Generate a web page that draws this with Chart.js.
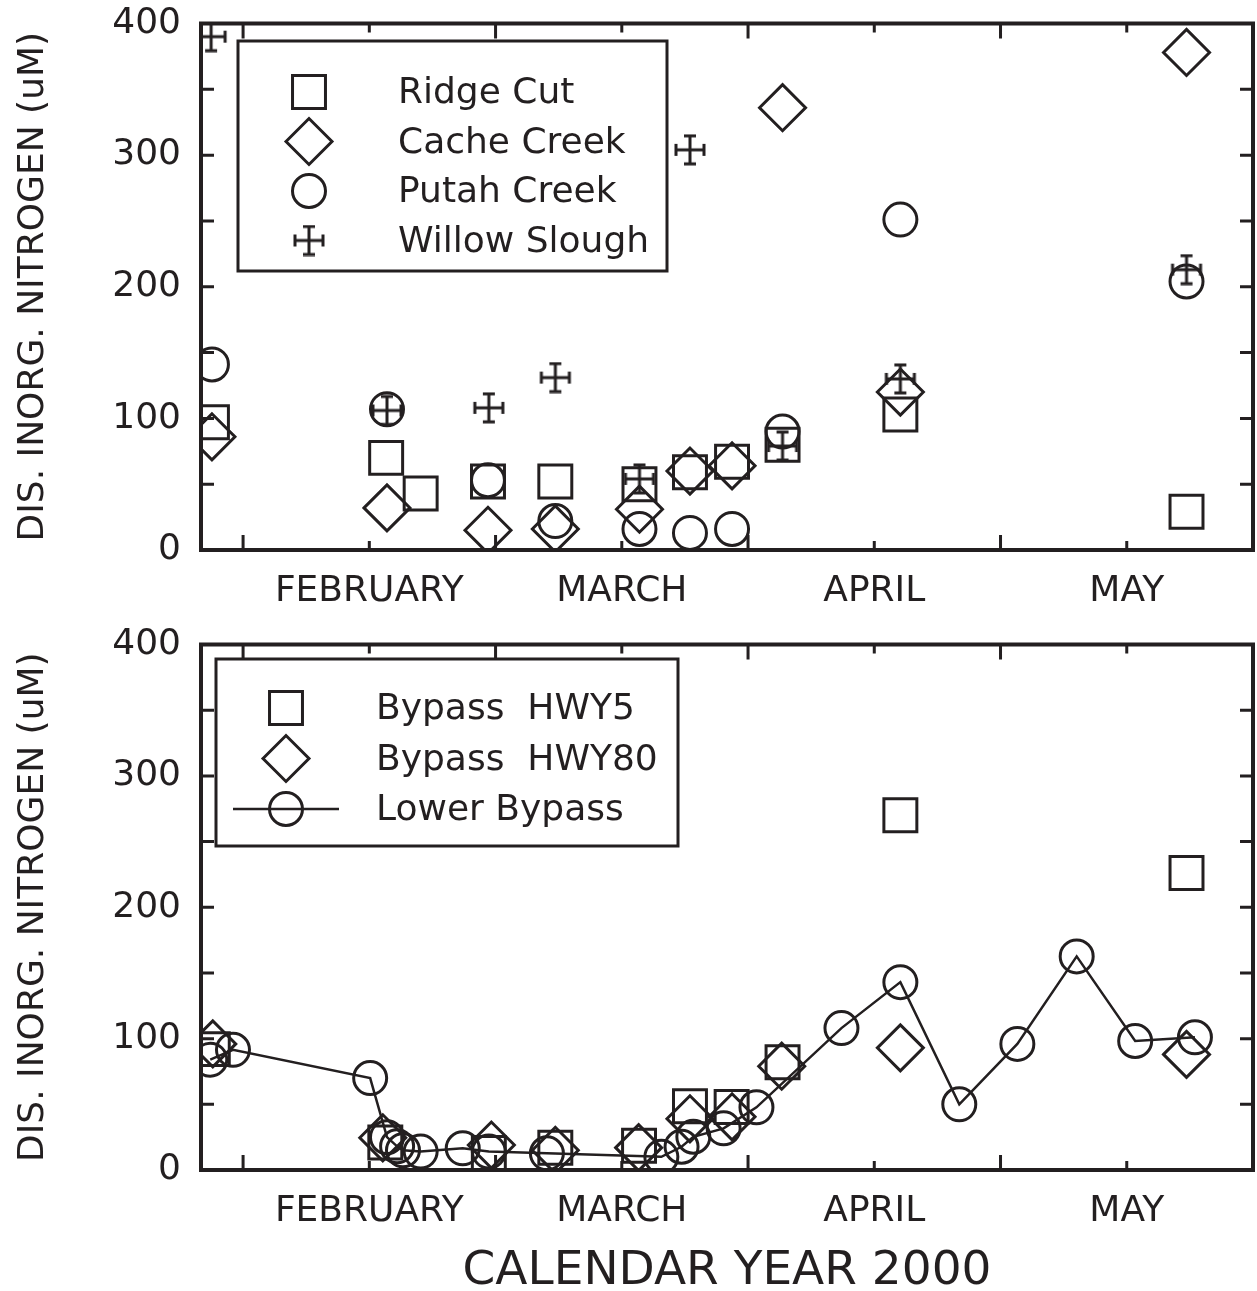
<!DOCTYPE html>
<html>
<head>
<meta charset="utf-8">
<title>Dissolved inorganic nitrogen, calendar year 2000</title>
<script src="https://cdn.jsdelivr.net/npm/chart.js@4/dist/chart.umd.min.js"></script>
<style>
    html, body { margin: 0; padding: 0; background: #fff; overflow: hidden; }
    #wrap { position: relative; width: 1257px; height: 1291px; }
    .panel { position: absolute; left: 0; width: 1257px; }
    #topPanel { top: 0; height: 620px; }
    #bottomPanel { top: 620px; height: 671px; }
</style>
</head>
<body>
<div id="wrap">
    <div class="panel" id="topPanel"><canvas id="topChart"></canvas></div>
    <div class="panel" id="bottomPanel"><canvas id="bottomChart"></canvas></div>
</div>
<script>
const INK = '#231f20';
const FONT = "'DejaVu Sans', sans-serif";

// x axis: day of year 2000, month names sit on the mid-month ticks
const xTickValues = [30, 45, 60, 75, 90, 105, 120, 135, 150];
const monthLabels = { 45: 'FEBRUARY', 75: 'MARCH', 105: 'APRIL', 135: 'MAY' };
const yTickValues = [0, 50, 100, 150, 200, 250, 300, 350, 400];

// Top panel
const ridgeCutDays = [26.3, 47.0, 51.1, 59.1, 67.1, 77.1, 83.1, 88.1, 94.1, 108.1, 142.1];
const ridgeCut     = [97, 70, 43, 52, 52, 50, 59, 67, 80, 103, 29];

const cacheCreekDays = [26.3, 47.1, 59.1, 67.1, 77.1, 83.1, 88.1, 94.1, 108.1, 142.1];
const cacheCreek     = [86, 32, 15, 16, 31, 60, 64, 336, 120, 378];

const putahCreekDays = [26.3, 47.1, 59.1, 67.1, 77.1, 83.1, 88.1, 94.1, 108.1, 142.1];
const putahCreek     = [141, 107, 53, 22, 16, 13, 16, 90, 251, 204];

const willowSloughDays = [26.2, 47.1, 59.2, 67.1, 77.1, 83.1, 94.1, 108.1, 142.1];
const willowSlough     = [390, 106, 108, 131, 54, 304, 79, 130, 213];

// Bottom panel
const hwy5Days = [26.4, 46.9, 59.2, 67.1, 77.05, 83.1, 88.05, 94.1, 108.1, 142.1];
const hwy5     = [92, 21, 13, 17, 18.5, 48.5, 48, 82, 270, 226];

const hwy80Days = [26.4, 46.6, 59.5, 67.1, 77.0, 83.1, 88.1, 94.0, 108.1, 142.1];
const hwy80     = [96, 24.5, 19, 15, 17, 39, 40.5, 79, 93, 88];

const lowerBypassDays = [26.1, 28.8, 45.1, 47.1, 48.3, 49.0, 51.1, 56.1, 59.2, 66.1, 79.7,
                         82.1, 83.5, 87.1, 91.0, 101.1, 108.1, 115.1, 122.0, 129.05, 136.0, 143.1];
const lowerBypass     = [84, 91.5, 70, 25, 18, 15, 14, 16.5, 14, 12.7, 10,
                         17.7, 25.3, 31.7, 47.7, 108, 143, 50, 96, 162.6, 98.2, 101];

function points(days, values) {
    return days.map((d, i) => ({ x: d, y: values[i] }));
}

// Willow Slough symbol: cross with error-bar caps
function makeCrossMarker() {
    const c = document.createElement('canvas');
    c.width = 34;
    c.height = 32;
    const g = c.getContext('2d');
    g.strokeStyle = INK;
    g.lineWidth = 3;
    g.beginPath();
    g.moveTo(3, 16); g.lineTo(31, 16);
    g.moveTo(3, 10); g.lineTo(3, 22);
    g.moveTo(31, 10); g.lineTo(31, 22);
    g.moveTo(17, 2); g.lineTo(17, 30);
    g.moveTo(11, 2); g.lineTo(23, 2);
    g.moveTo(11, 30); g.lineTo(23, 30);
    g.stroke();
    return c;
}
const crossMarker = makeCrossMarker();

function marker(style, radius) {
    return {
        pointStyle: style,
        pointRadius: radius,
        pointBorderWidth: 3,
        pointBorderColor: INK,
        pointBackgroundColor: 'rgba(0,0,0,0)',
        borderColor: INK,
        showLine: false
    };
}

function drawMarker(ctx, style, r, x, y) {
    if (style instanceof HTMLCanvasElement) {
        ctx.drawImage(style, x - style.width / 2, y - style.height / 2);
        return;
    }
    ctx.beginPath();
    if (style === 'rect') {
        const s = r * Math.SQRT1_2;
        ctx.rect(x - s, y - s, 2 * s, 2 * s);
    } else if (style === 'rectRot') {
        ctx.moveTo(x - r, y);
        ctx.lineTo(x, y - r);
        ctx.lineTo(x + r, y);
        ctx.lineTo(x, y + r);
        ctx.closePath();
    } else {
        ctx.arc(x, y, r, 0, Math.PI * 2);
    }
    ctx.stroke();
}

// boxed legend inside the plot
const boxLegend = {
    id: 'boxLegend',
    afterDraw(chart, args, opts) {
        const { ctx, chartArea: a } = chart;
        const bx = a.left + opts.left;
        const by = a.top + opts.top;
        ctx.save();
        ctx.strokeStyle = INK;
        ctx.lineWidth = 3;
        ctx.strokeRect(bx, by, opts.width, opts.height);
        ctx.font = '36px ' + FONT;
        ctx.fillStyle = INK;
        ctx.textBaseline = 'middle';
        chart.data.datasets.forEach((ds, i) => {
            const cy = by + opts.rowTop + i * opts.rowGap;
            const cx = bx + opts.symbolX;
            if (ds.showLine) {
                ctx.lineWidth = 2.5;
                ctx.beginPath();
                ctx.moveTo(bx + opts.lineFrom, cy);
                ctx.lineTo(bx + opts.lineTo, cy);
                ctx.stroke();
            }
            ctx.lineWidth = 3;
            drawMarker(ctx, ds.pointStyle, ds.pointRadius, cx, cy);
            ctx.fillText(ds.label, bx + opts.textX, cy + 2);
        });
        ctx.restore();
    }
};

// frame with inward ticks on all four sides
const frame = {
    id: 'frame',
    afterDraw(chart) {
        const { ctx, chartArea: a, scales: { x, y } } = chart;
        ctx.save();
        ctx.strokeStyle = INK;
        ctx.lineWidth = 3;
        ctx.beginPath();
        x.ticks.forEach(t => {
            const px = x.getPixelForValue(t.value);
            const len = monthLabels[t.value] ? 9 : 15;
            ctx.moveTo(px, a.bottom); ctx.lineTo(px, a.bottom - len);
            ctx.moveTo(px, a.top); ctx.lineTo(px, a.top + len);
        });
        y.ticks.forEach(t => {
            const py = y.getPixelForValue(t.value);
            ctx.moveTo(a.left, py); ctx.lineTo(a.left + 13, py);
            ctx.moveTo(a.right, py); ctx.lineTo(a.right - 13, py);
        });
        ctx.stroke();
        ctx.lineWidth = 4;
        ctx.strokeRect(a.left, a.top, a.right - a.left, a.bottom - a.top);
        ctx.restore();
    }
};

function makeOptions(padTop, xHeight, xTitle, legendOpts) {
    return {
        responsive: true,
        maintainAspectRatio: false,
        animation: false,
        events: [],
        layout: { autoPadding: false, padding: { top: padTop, right: 4, left: 0, bottom: 0 } },
        plugins: {
            legend: { display: false },
            tooltip: { enabled: false },
            boxLegend: legendOpts
        },
        scales: {
            x: {
                type: 'linear',
                min: 25,
                max: 150,
                afterBuildTicks: s => { s.ticks = xTickValues.map(v => ({ value: v })); },
                afterFit: s => {
                    s.height = xHeight;
                    s.paddingLeft = 0;
                    s.paddingRight = 0;
                },
                // tick marks come from the frame plugin; tickLength only spaces the labels
                grid: { display: false, drawTicks: true, tickLength: 20 },
                border: { display: false },
                ticks: {
                    autoSkip: false,
                    maxRotation: 0,
                    padding: 0,
                    color: INK,
                    font: { family: FONT, size: 36 },
                    callback: v => monthLabels[v] || ''
                },
                title: {
                    display: !!xTitle,
                    text: xTitle || '',
                    color: INK,
                    font: { family: FONT, size: 47, lineHeight: 0.8 },
                    padding: 0
                }
            },
            y: {
                min: 0,
                max: 400,
                afterBuildTicks: s => { s.ticks = yTickValues.map(v => ({ value: v })); },
                afterFit: s => {
                    s.width = 201;
                    s.paddingTop = 0;
                    s.paddingBottom = 0;
                },
                grid: { display: false, drawTicks: true, tickLength: 20 },
                border: { display: false },
                ticks: {
                    padding: 0,
                    color: INK,
                    font: { family: FONT, size: 36 },
                    callback: v => (v % 100 === 0 ? v : '')
                },
                title: {
                    display: true,
                    text: 'DIS. INORG. NITROGEN (uM)',
                    color: INK,
                    font: { family: FONT, size: 36 },
                    padding: { top: 12, bottom: 0 }
                }
            }
        }
    };
}

new Chart(document.getElementById('topChart'), {
    type: 'scatter',
    data: {
        datasets: [
            { label: 'Ridge Cut', data: points(ridgeCutDays, ridgeCut), ...marker('rect', 23.3) },
            { label: 'Cache Creek', data: points(cacheCreekDays, cacheCreek), ...marker('rectRot', 23) },
            { label: 'Putah Creek', data: points(putahCreekDays, putahCreek), ...marker('circle', 16.5) },
            { label: 'Willow Slough', data: points(willowSloughDays, willowSlough), ...marker(crossMarker, 15) }
        ]
    },
    options: makeOptions(23.5, 70, null, {
        left: 37, top: 17.5, width: 429, height: 230,
        symbolX: 71, textX: 160, rowTop: 51, rowGap: 49.5
    }),
    plugins: [boxLegend, frame]
});

new Chart(document.getElementById('bottomChart'), {
    type: 'scatter',
    data: {
        datasets: [
            { label: 'Bypass  HWY5', data: points(hwy5Days, hwy5), ...marker('rect', 23.3) },
            { label: 'Bypass  HWY80', data: points(hwy80Days, hwy80), ...marker('rectRot', 23) },
            {
                label: 'Lower Bypass', data: points(lowerBypassDays, lowerBypass),
                ...marker('circle', 16.5), showLine: true, borderWidth: 2.5, tension: 0
            }
        ]
    },
    options: makeOptions(24.5, 121, 'CALENDAR YEAR 2000', {
        left: 15, top: 14.5, width: 462, height: 187,
        symbolX: 70, textX: 160, rowTop: 49, rowGap: 50.5, lineFrom: 17, lineTo: 123
    }),
    plugins: [boxLegend, frame]
});
</script>
</body>
</html>
